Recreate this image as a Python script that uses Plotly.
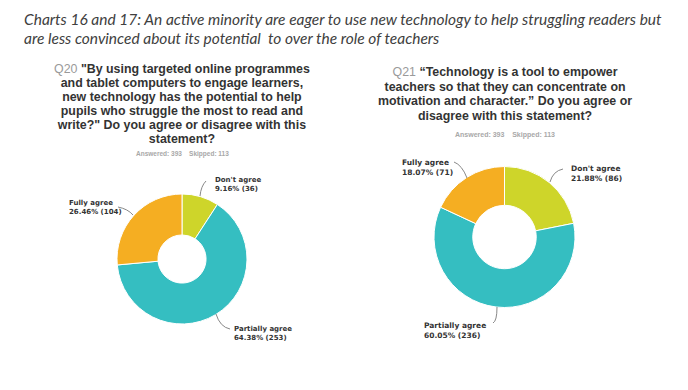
import plotly.graph_objects as go

categories = ["Don't agree", "Partially agree", "Fully agree"]
q20_counts = [36, 253, 104]
q21_counts = [86, 236, 71]
colors = ["#CED52A", "#35BEC1", "#F5AE22"]

title_lines = [
    "Charts 16 and 17: An active minority are eager to use new technology to help struggling readers but",
    "are less convinced about its potential  to over the role of teachers",
]
q20_lines = [
    "<span style='color:#9a9a9a'>Q20</span> <b>\"By using targeted online programmes</b>",
    "<b>and tablet computers to engage learners,</b>",
    "<b>new technology has the potential to help</b>",
    "<b>pupils who struggle the most to read and</b>",
    "<b>write?\" Do you agree or disagree with this</b>",
    "<b>statement?</b>",
]
q21_lines = [
    "<span style='color:#9a9a9a'>Q21</span> <b>\u201cTechnology is a tool to empower</b>",
    "<b>teachers so that they can concentrate on</b>",
    "<b>motivation and character.\u201d Do you agree or</b>",
    "<b>disagree with this statement?</b>",
]
answered_text = "Answered: 393    Skipped: 113"

W, H = 688, 390

def px(x):
    return x / W

def py(y):
    return 1 - y / H

fig = go.Figure()

def add_donut(counts, cx, cy, r, hole):
    fig.add_trace(go.Pie(
        labels=categories, values=counts, sort=False, direction="clockwise",
        hole=hole, marker=dict(colors=colors, line=dict(color="white", width=1)),
        textinfo="none", hoverinfo="label+value+percent", showlegend=False,
        domain=dict(x=[px(cx - r), px(cx + r)], y=[py(cy + r), py(cy - r)]),
    ))

add_donut(q20_counts, 182, 259, 65, 0.37)
add_donut(q21_counts, 504.5, 237, 70.5, 0.45)

def label_text(i, counts):
    total = sum(counts)
    return f"<b>{categories[i]}<br>{counts[i] / total * 100:.2f}% ({counts[i]})</b>"

annotations = []

def ann(text, x, y, size, family, color, xanchor="center", align="center", style="normal", yanchor="middle"):
    annotations.append(dict(text=text, x=px(x), y=py(y), xanchor=xanchor, yanchor=yanchor,
                            showarrow=False, align=align, xref="paper", yref="paper",
                            font=dict(family=family, size=size, color=color, style=style)))

# main title
for i, line in enumerate(title_lines):
    ann(line, 22, 19 + 19 * i, 15.5, "Lato", "#404040", xanchor="left", align="left", style="italic")

# question titles: base font sets the tight line spacing, span sets glyph size
def block(lines, glyph_size):
    return "<br>".join(f"<span style='font-size:{glyph_size}px'>{l}</span>" for l in lines)

ann(block(q20_lines, 12.4), 182, 104, 14 / 1.3, "Liberation Sans, Arial", "#333333")
ann("<b>" + answered_text + "</b>", 182, 154, 6.5, "Liberation Sans, Arial", "#a8a8a8")

ann(block(q21_lines, 12.4), 505, 94, 14.7 / 1.3, "Liberation Sans, Arial", "#333333")
ann("<b>" + answered_text + "</b>", 505, 135, 7, "Liberation Sans, Arial", "#a8a8a8")

# slice labels: (counts, index, x_left, y_center, size)
label_pos = [
    (q20_counts, 0, 213, 184.5, 7),
    (q20_counts, 2, 67, 207.5, 7),
    (q20_counts, 1, 232, 333.5, 7),
    (q21_counts, 2, 400, 167.5, 7.5),
    (q21_counts, 0, 569, 173.5, 7.5),
    (q21_counts, 1, 422, 330.5, 7.5),
]
for counts, i, x, y, s in label_pos:
    ann(label_text(i, counts), x, y, s, "DejaVu Sans", "#333333", xanchor="left", align="left")

# leader lines (start, control, end) in pixels
leaders = [
    ((206, 181), (201, 186), (200, 196)),
    ((118, 207), (128, 209), (133, 215)),
    ((216, 314), (220, 327), (230, 329)),
    ((454, 162), (462, 165), (467, 178)),
    ((563, 169), (553, 171), (550, 182)),
    ((497, 307), (497, 321), (493, 323)),
]
shapes = []
for (x0, y0), (x1, y1), (x2, y2) in leaders:
    shapes.append(dict(type="path", xref="paper", yref="paper",
                       path=f"M {px(x0)} {py(y0)} Q {px(x1)} {py(y1)} {px(x2)} {py(y2)}",
                       line=dict(color="#888888", width=1)))

fig.update_layout(width=W, height=H, margin=dict(l=0, r=0, t=0, b=0),
                  paper_bgcolor="white", plot_bgcolor="white",
                  annotations=annotations, shapes=shapes)

fig.write_html("out.html", config={"displayModeBar": False},
               post_script="document.body.style.margin='0px';")
